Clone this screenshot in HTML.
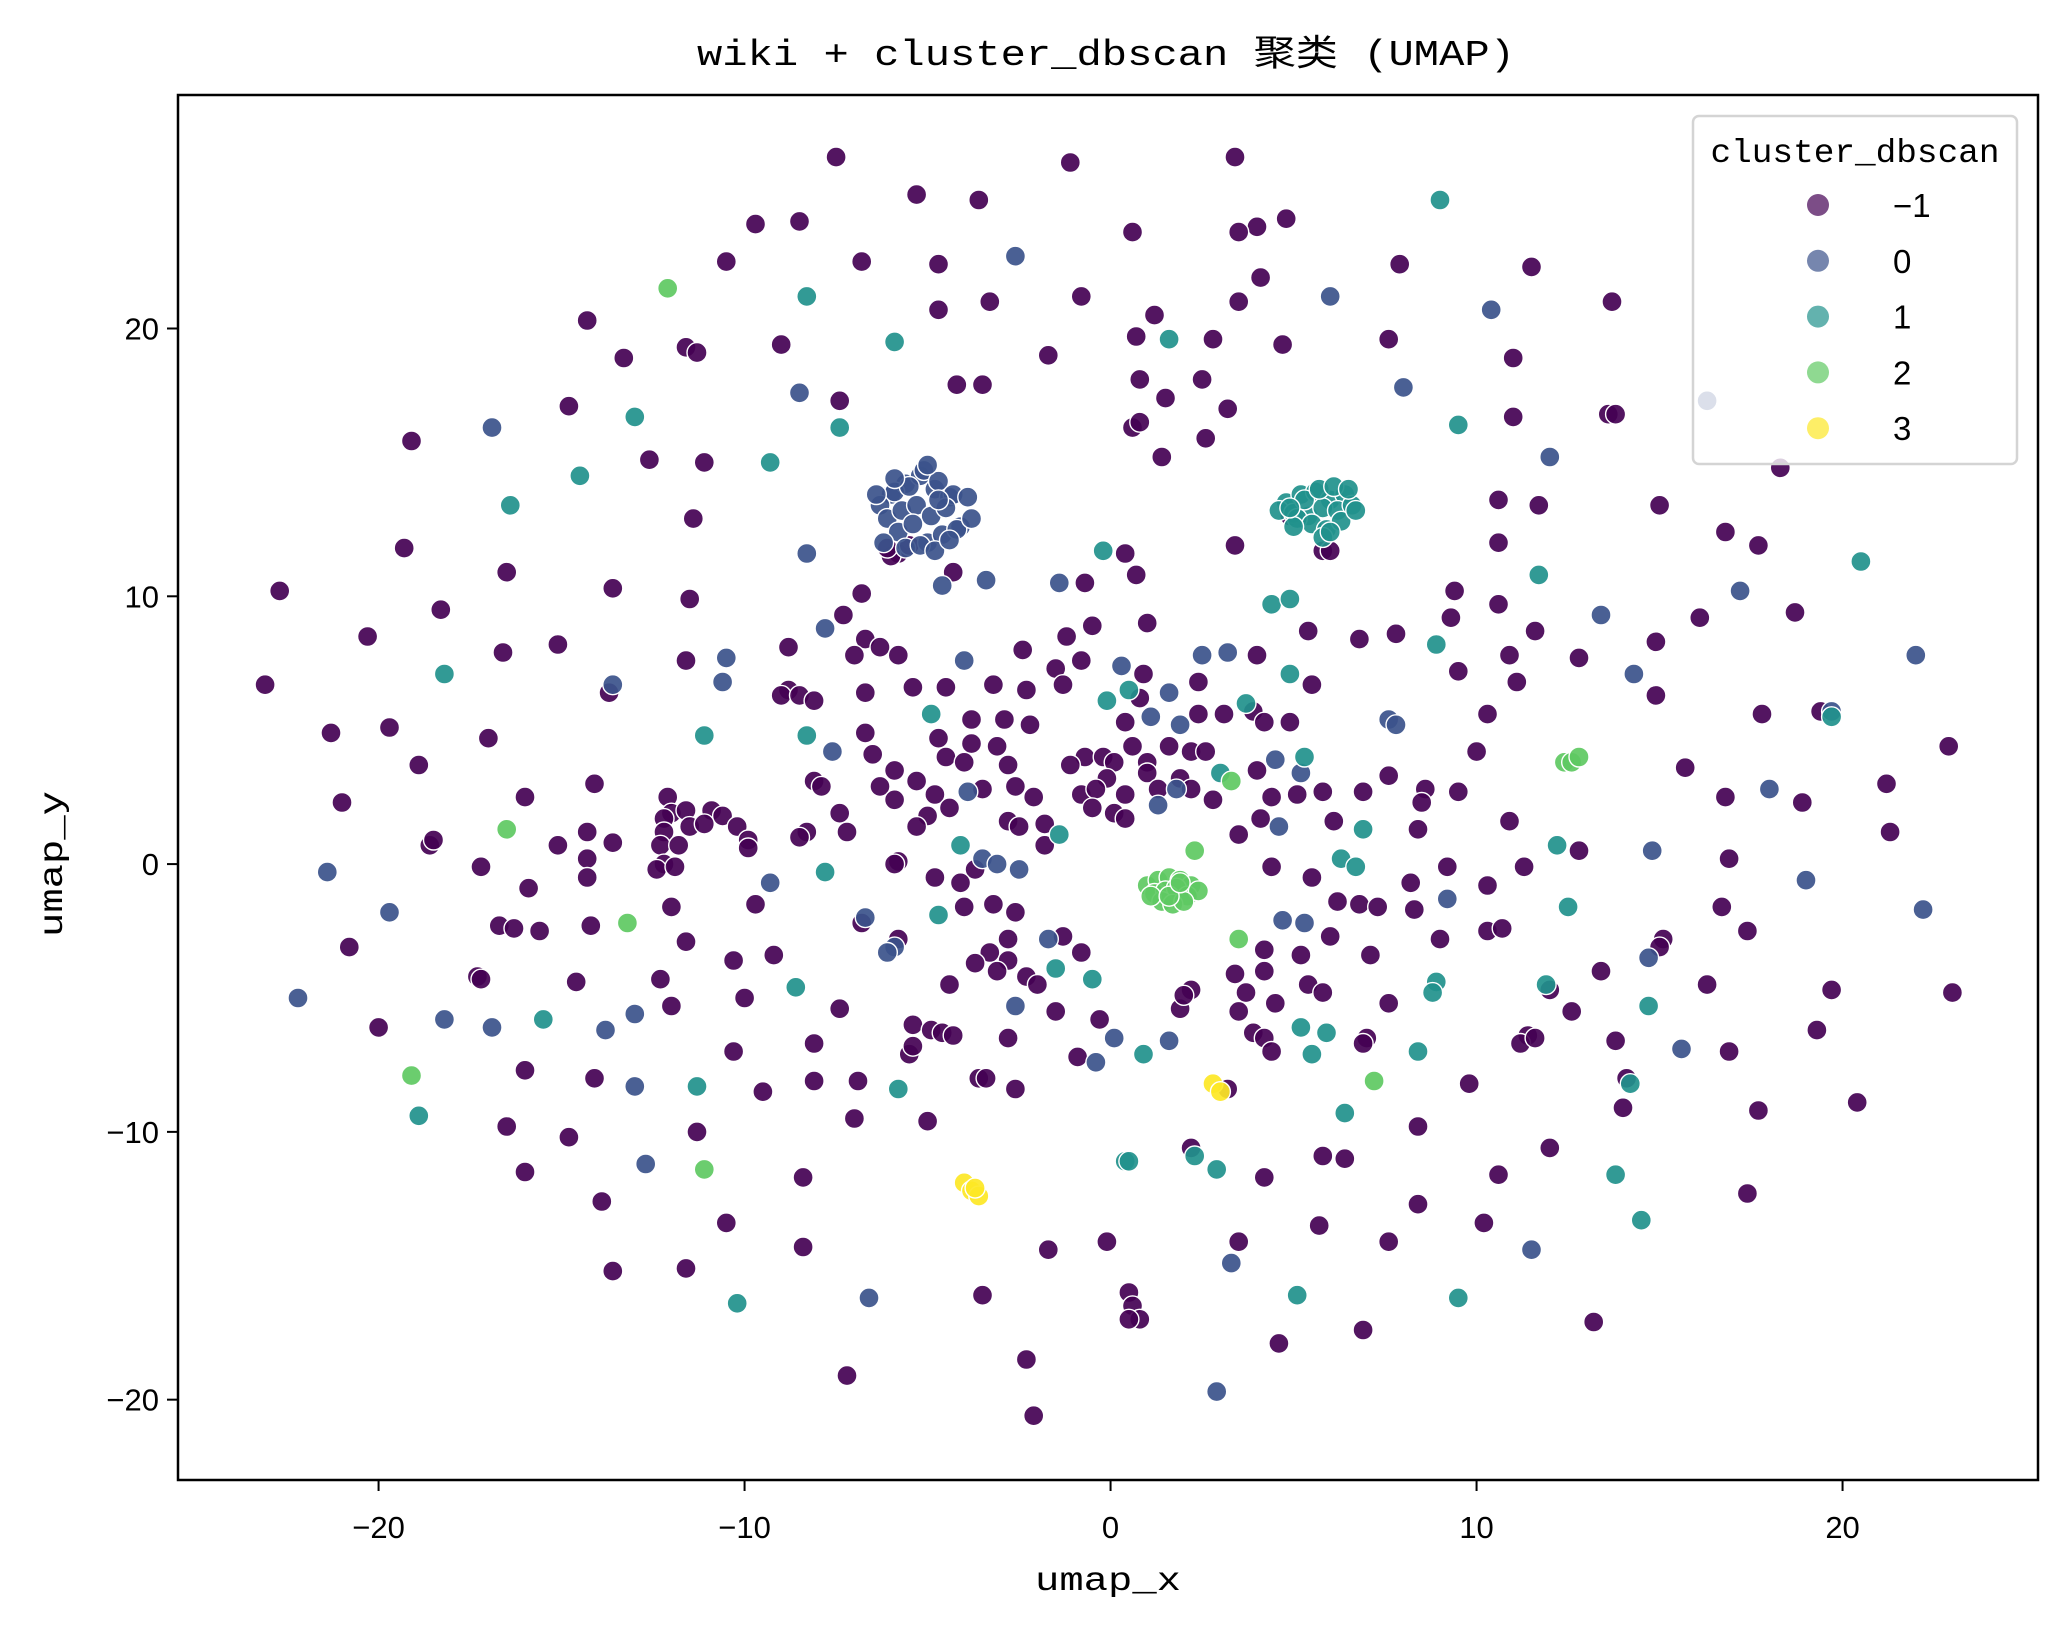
<!DOCTYPE html>
<html><head><meta charset="utf-8"><style>
html,body{margin:0;padding:0;background:#fff;}
svg{display:block;font-family:"Liberation Sans","Noto Sans CJK SC",sans-serif;}
</style></head><body>
<svg id="chart" width="2068" height="1632" viewBox="0 0 2068 1632" xmlns="http://www.w3.org/2000/svg">
<rect x="0" y="0" width="2068" height="1632" fill="#fff"/>
<text x="1106" y="65" text-anchor="middle" font-size="36" font-family="'Liberation Mono','Noto Sans CJK SC',monospace" textLength="818" lengthAdjust="spacingAndGlyphs">wiki + cluster_dbscan 聚类 (UMAP)</text>
<g id="points"></g>
<rect x="178" y="95" width="1860" height="1385" fill="none" stroke="#000" stroke-width="2.5"/>
<g id="xticks"></g>
<g id="yticks"></g>
<text x="1108" y="1590" text-anchor="middle" font-size="33" font-family="'Liberation Mono','Noto Sans CJK SC',monospace" textLength="146" lengthAdjust="spacingAndGlyphs">umap_x</text>
<text transform="translate(62,864) rotate(-90)" text-anchor="middle" font-size="33" font-family="'Liberation Mono','Noto Sans CJK SC',monospace" textLength="146" lengthAdjust="spacingAndGlyphs">umap_y</text>
<g>
<rect x="1693" y="116" width="324" height="348" rx="6" fill="#fff" fill-opacity="0.8" stroke="#d4d4d4" stroke-width="2.5"/>
<text x="1855" y="162" text-anchor="middle" font-size="33" font-family="'Liberation Mono','Noto Sans CJK SC',monospace" textLength="289" lengthAdjust="spacingAndGlyphs">cluster_dbscan</text>
<g id="legend-entries"></g>
</g>
</svg>
<script>
// ---- data: one pair of arrays per cluster ----
const noiseX = [-7.5,-1.1,3.4,-5.3,-3.6,4.0,4.8,3.5,0.6,-8.5,-9.7,-10.5,-6.8,-4.7,4.1,7.9,11.5,-0.8,-3.3,-4.7,3.5,1.2,13.7,-14.3,-13.3,-11.6,-11.3,-9.0,-1.7,0.7,2.8,4.7,7.6,11.0,-4.2,-3.5,-7.4,0.8,2.5,1.5,3.2,13.6,13.8,-14.8,-19.1,0.6,0.8,1.4,2.6,11.0,-12.6,-11.1,18.3,
10.6,11.7,15.0,-11.4,-19.3,-5.8,0.4,3.4,5.8,10.6,16.8,17.7,-16.5,-22.7,-13.6,-4.3,-0.7,0.7,9.4,10.6,16.1,18.7,-11.5,-18.3,-6.8,-7.3,-0.5,1.0,5.4,9.3,6.8,7.8,11.6,14.9,-20.3,-15.1,-8.8,-6.7,-6.3,-1.2,-7.0,-5.8,-16.6,-11.6,-2.4,10.9,12.8,-1.5,-0.8,0.9,4.0,9.5,11.1,
-23.1,-6.7,-5.4,-4.5,-3.2,-2.3,-1.3,0.8,2.4,5.5,14.9,-13.7,-8.8,-9.0,-8.5,-8.1,-3.8,-2.9,0.4,2.4,3.1,3.9,4.2,4.9,10.3,17.8,19.4,-19.7,-21.3,-17.0,-6.7,-6.5,-4.7,-4.5,-3.8,-3.1,-2.2,-0.7,-0.2,0.1,0.6,1.0,1.6,2.2,2.6,10.0,22.9,
-18.9,-5.9,-5.3,-4.0,-2.8,-1.1,-0.1,1.0,1.9,4.0,7.6,15.7,-14.1,-8.1,-7.9,-6.3,-5.9,-4.8,-3.5,-2.6,-2.1,-0.8,-0.4,0.4,1.3,2.2,2.8,4.4,5.1,5.8,6.9,8.6,9.5,21.2,-21.0,-16.0,-12.1,-12.0,-11.6,-10.9,-10.6,-10.2,-9.9,-9.9,-12.2,-11.5,-11.1,-12.2,-12.3,-12.2,-12.4,-11.9,-11.8,-7.4,-7.2,-8.3,-8.5,-5.0,-5.3,-4.4,-2.8,-2.5,-1.8,-1.8,-0.5,0.1,0.4,3.5,4.1,6.1,8.4,8.5,10.9,12.8,16.9,21.3,16.8,18.9,
-15.1,-14.3,-13.6,-18.6,-18.5,-17.2,-14.3,-5.8,-5.9,-3.7,-4.8,-4.1,4.4,5.5,9.2,10.3,11.3,-15.9,-14.3,
6.2,6.8,7.3,8.2,8.3,16.7,-12.0,-9.7,-4.0,-3.2,-2.6,6.0,10.3,10.7,17.4,-16.7,-16.3,-15.6,-14.2,-6.8,-2.8,-1.3,-11.6,9.0,15.1,15.0,-20.8,-5.8,-3.3,-2.8,-0.8,4.2,5.2,7.1,13.4,-10.3,-9.2,-3.7,-3.1,-2.3,3.4,3.7,4.2,5.4,-17.3,-17.2,-14.6,-12.3,-4.4,-2.0,5.8,12.0,19.7,23.0,
-12.0,-10.0,-1.5,1.9,3.5,4.5,7.6,12.6,16.3,-7.4,2.2,2.0,-20.0,-5.4,-4.9,-4.6,-4.3,-0.3,3.9,4.2,7.0,6.9,11.4,11.2,11.6,13.8,19.3,-5.5,-5.4,-2.8,-10.3,-8.1,-0.9,4.4,16.9,
-16.0,-14.1,-9.5,-8.1,-6.9,-3.6,-3.4,-2.6,3.2,9.8,14.1,20.4,-7.0,-5.0,-16.5,8.4,14.0,17.7,-14.8,-11.3,5.8,6.4,12.0,2.2,-16.0,-8.4,4.2,10.6,17.4,-13.9,8.4,-10.5,10.2,
-13.6,-11.6,-8.4,-0.1,3.5,5.7,7.6,-1.7,0.5,0.6,0.8,0.5,-3.5,13.2,-2.3,4.6,6.9,-7.2,-2.1,
-6.0,-5.5,-6.1,6.0,4.9];
const noiseY = [26.4,26.2,26.4,25.0,24.8,23.8,24.1,23.6,23.6,24.0,23.9,22.5,22.5,22.4,21.9,22.4,22.3,21.2,21.0,20.7,21.0,20.5,21.0,20.3,18.9,19.3,19.1,19.4,19.0,19.7,19.6,19.4,19.6,18.9,17.9,17.9,17.3,18.1,18.1,17.4,17.0,16.8,16.8,17.1,15.8,16.3,16.5,15.2,15.9,16.7,15.1,15.0,14.8,
13.6,13.4,13.4,12.9,11.8,11.6,11.6,11.9,11.7,12.0,12.4,11.9,10.9,10.2,10.3,10.9,10.5,10.8,10.2,9.7,9.2,9.4,9.9,9.5,10.1,9.3,8.9,9.0,8.7,9.2,8.4,8.6,8.7,8.3,8.5,8.2,8.1,8.4,8.1,8.5,7.8,7.8,7.9,7.6,8.0,7.8,7.7,7.3,7.6,7.1,7.8,7.2,6.8,
6.7,6.4,6.6,6.6,6.7,6.5,6.7,6.2,6.8,6.7,6.3,6.4,6.5,6.3,6.3,6.1,5.4,5.4,5.3,5.6,5.6,5.7,5.3,5.3,5.6,5.6,5.7,5.1,4.9,4.7,4.9,4.1,4.7,4.0,4.5,4.4,5.2,4.0,4.0,3.8,4.4,3.8,4.4,4.2,4.2,4.2,4.4,
3.7,3.5,3.1,3.8,3.7,3.7,3.2,3.4,3.2,3.5,3.3,3.6,3.0,3.1,2.9,2.9,2.4,2.6,2.8,2.9,2.5,2.6,2.8,2.6,2.8,2.8,2.4,2.5,2.6,2.7,2.7,2.8,2.7,3.0,2.3,2.5,2.5,1.9,2.0,2.0,1.8,1.4,0.9,0.6,1.7,1.4,1.5,1.2,0.7,0.0,-0.2,-0.1,0.7,1.9,1.2,1.2,1.0,1.8,1.4,2.1,1.6,1.4,1.5,0.7,2.1,1.9,1.7,1.1,1.7,1.6,1.3,2.3,1.6,0.5,0.2,1.2,2.5,2.3,
0.7,1.2,0.8,0.7,0.9,-0.1,0.2,0.1,0.0,-0.2,-0.5,-0.7,-0.1,-0.5,-0.1,-0.8,-0.1,-0.9,-0.5,
-1.4,-1.5,-1.6,-0.7,-1.7,-1.6,-1.6,-1.5,-1.6,-1.5,-1.8,-2.7,-2.5,-2.4,-2.5,-2.3,-2.4,-2.5,-2.3,-2.2,-2.8,-2.7,-2.9,-2.8,-2.8,-3.1,-3.1,-2.8,-3.3,-3.6,-3.3,-3.2,-3.4,-3.4,-4.0,-3.6,-3.4,-3.7,-4.0,-4.2,-4.1,-4.8,-4.0,-4.5,-4.2,-4.3,-4.4,-4.3,-4.5,-4.5,-4.8,-4.7,-4.7,-4.8,
-5.3,-5.0,-5.5,-5.4,-5.5,-5.2,-5.2,-5.5,-4.5,-5.4,-4.7,-4.9,-6.1,-6.0,-6.2,-6.3,-6.4,-5.8,-6.3,-6.5,-6.5,-6.7,-6.4,-6.7,-6.5,-6.6,-6.2,-7.1,-6.8,-6.5,-7.0,-6.7,-7.2,-7.0,-7.0,
-7.7,-8.0,-8.5,-8.1,-8.1,-8.0,-8.0,-8.4,-8.4,-8.2,-8.0,-8.9,-9.5,-9.6,-9.8,-9.8,-9.1,-9.2,-10.2,-10.0,-10.9,-11.0,-10.6,-10.6,-11.5,-11.7,-11.7,-11.6,-12.3,-12.6,-12.7,-13.4,-13.4,
-15.2,-15.1,-14.3,-14.1,-14.1,-13.5,-14.1,-14.4,-16.0,-16.5,-17.0,-17.0,-16.1,-17.1,-18.5,-17.9,-17.4,-19.1,-20.6,
11.5,11.9,11.8,11.7,13.0];
const c0X = [-2.6,6.0,10.4,-8.5,8.0,16.3,-16.9,12.0,-8.3,-3.4,-4.6,-1.4,13.4,17.2,-7.8,-10.5,22.0,-4.0,0.3,2.5,3.2,14.3,-10.6,-13.6,1.6,1.1,1.9,7.6,7.8,19.7,-7.6,4.5,5.2,-3.9,1.8,18.0,1.3,4.6,14.8,19.0,-3.5,-3.1,-2.5,-21.4,-9.3,9.2,22.2,-19.7,-6.7,4.7,5.3,-1.7,-5.9,-6.1,14.7,-2.6,-22.2,-18.2,-13.0,-13.8,-16.9,15.6,0.1,1.6,-0.4,-13.0,-12.7,11.5,3.3,-6.6,2.9,
-6.0,-5.6,-5.2,-4.8,-4.4,-6.3,-5.9,-5.5,-5.1,-4.7,-4.3,-3.9,-6.1,-5.7,-5.3,-4.9,-4.5,-4.1,-5.8,-5.4,-5.0,-4.6,-4.2,-6.2,-5.6,-5.2,-4.8,-4.4,-5.9,-5.0,-4.7,-6.4,-3.8];
const c0Y = [22.7,21.2,20.7,17.6,17.8,17.3,16.3,15.2,11.6,10.6,10.4,10.5,9.3,10.2,8.8,7.7,7.8,7.6,7.4,7.8,7.9,7.1,6.8,6.7,6.4,5.5,5.2,5.4,5.2,5.7,4.2,3.9,3.4,2.7,2.8,2.8,2.2,1.4,0.5,-0.6,0.2,0.0,-0.2,-0.3,-0.7,-1.3,-1.7,-1.8,-2.0,-2.1,-2.2,-2.8,-3.1,-3.3,-3.5,-5.3,-5.0,-5.8,-5.6,-6.2,-6.1,-6.9,-6.5,-6.6,-7.4,-8.3,-11.2,-14.4,-14.9,-16.2,-19.7,
13.8,14.2,14.5,14.0,13.7,13.4,13.9,14.1,14.7,14.3,13.8,13.7,12.9,13.2,13.4,13.0,13.3,12.6,12.4,12.7,12.0,12.3,12.5,12.0,11.8,11.9,11.7,12.1,14.4,14.9,13.6,13.8,12.9];
const c1X = [9.0,-8.3,-5.9,1.6,-13.0,-7.4,9.5,-9.3,-14.5,-16.4,-0.2,20.5,11.7,4.4,4.9,8.9,-18.2,4.9,-0.1,0.5,3.7,19.7,-4.9,-11.1,-8.3,5.3,3.0,-1.4,6.9,12.2,-4.1,6.3,6.7,-7.8,12.5,-4.7,-1.5,-0.5,-8.6,8.9,8.8,11.9,14.7,-15.5,5.2,5.9,0.9,5.5,8.4,-11.3,-5.8,14.2,-18.9,6.4,2.3,0.4,0.5,2.9,13.8,14.5,-10.2,5.1,9.5,
4.8,5.2,5.6,6.0,6.4,4.6,5.0,5.4,5.8,6.2,6.6,5.1,5.5,5.9,6.3,6.7,5.3,5.7,6.1,6.5,5.8,6.0,5.0,4.9];
const c1Y = [24.8,21.2,19.5,19.6,16.7,16.3,16.4,15.0,14.5,13.4,11.7,11.3,10.8,9.7,9.9,8.2,7.1,7.1,6.1,6.5,6.0,5.5,5.6,4.8,4.8,4.0,3.4,1.1,1.3,0.7,0.7,0.2,-0.1,-0.3,-1.6,-1.9,-3.9,-4.3,-4.6,-4.4,-4.8,-4.5,-5.3,-5.8,-6.1,-6.3,-7.1,-7.1,-7.0,-8.3,-8.4,-8.2,-9.4,-9.3,-10.9,-11.1,-11.1,-11.4,-11.6,-13.3,-16.4,-16.1,-16.2,
13.5,13.8,13.9,13.6,13.8,13.2,13.1,13.0,13.3,13.2,13.4,12.9,12.7,12.5,12.8,13.2,13.6,14.0,14.1,14.0,12.2,12.4,12.6,13.3];
const c2X = [-12.1,12.4,12.6,12.8,3.3,2.3,-16.5,3.5,-13.2,-19.1,7.2,-11.1,
1.0,1.3,1.6,1.9,2.2,1.2,1.5,1.8,2.1,2.4,1.4,1.7,2.0,1.1,1.6,1.9];
const c2Y = [21.5,3.8,3.8,4.0,3.1,0.5,1.3,-2.8,-2.2,-7.9,-8.1,-11.4,
-0.8,-0.6,-0.5,-0.6,-0.8,-1.1,-1.0,-0.9,-1.2,-1.0,-1.4,-1.5,-1.4,-1.2,-1.2,-0.7];
const c3X = [2.8,3.0,-4.0,-3.8,-3.6,-3.7];
const c3Y = [-8.2,-8.5,-11.9,-12.2,-12.4,-12.1];
const legendLabels = ["\u22121","0","1","2","3"];
const xTickValues = [-20,-10,0,10,20];
const yTickValues = [-20,-10,0,10,20];
const xTickLabels = ["\u221220","\u221210","0","10","20"];
const yTickLabels = ["\u221220","\u221210","0","10","20"];

const NS = "http://www.w3.org/2000/svg";
const PL=178, PR=2038, PT=95, PB=1480;
const XMIN=-25.48, XMAX=25.34, YMIN=-23.0, YMAX=28.72;
function sx(v){return PL+(v-XMIN)/(XMAX-XMIN)*(PR-PL);}
function sy(v){return PB-(v-YMIN)/(YMAX-YMIN)*(PB-PT);}
const seriesList = [
  {x:noiseX,y:noiseY,color:"#440154",name:"point-noise"},
  {x:c0X,y:c0Y,color:"#3b528b",name:"point-cluster-0"},
  {x:c1X,y:c1Y,color:"#21918c",name:"point-cluster-1"},
  {x:c2X,y:c2Y,color:"#5ec962",name:"point-cluster-2"},
  {x:c3X,y:c3Y,color:"#fde725",name:"point-cluster-3"}
];
const legendColor = ["#7c4d87","#7686ae","#63b2ae","#8fd991","#fdee67"];

const gp = document.getElementById("points");
seriesList.forEach(s=>{
  const n=Math.min(s.x.length,s.y.length);
  for(let i=0;i<n;i++){
    const c=document.createElementNS(NS,"circle");
    c.setAttribute("cx",sx(s.x[i]).toFixed(1));
    c.setAttribute("cy",sy(s.y[i]).toFixed(1));
    c.setAttribute("r","10");
    c.setAttribute("fill",s.color);
    c.setAttribute("fill-opacity","0.92");
    c.setAttribute("stroke","#fff");
    c.setAttribute("stroke-width","1.4");
    
    
    gp.appendChild(c);
  }
});
const gx=document.getElementById("xticks");
xTickValues.forEach((v,i)=>{
  const x=sx(v);
  const l=document.createElementNS(NS,"line");
  l.setAttribute("x1",x);l.setAttribute("x2",x);l.setAttribute("y1",PB);l.setAttribute("y2",PB+11);
  l.setAttribute("stroke","#000");l.setAttribute("stroke-width","2");
  
  
  gx.appendChild(l);
  const t=document.createElementNS(NS,"text");
  t.setAttribute("x",x);t.setAttribute("y",PB+58);t.setAttribute("text-anchor","middle");
  t.setAttribute("font-size","31");
  t.textContent=xTickLabels[i];
  
  
  gx.appendChild(t);
});
const gy=document.getElementById("yticks");
yTickValues.forEach((v,i)=>{
  const y=sy(v);
  const l=document.createElementNS(NS,"line");
  l.setAttribute("x1",PL-11);l.setAttribute("x2",PL);l.setAttribute("y1",y);l.setAttribute("y2",y);
  l.setAttribute("stroke","#000");l.setAttribute("stroke-width","2");
  
  
  gy.appendChild(l);
  const t=document.createElementNS(NS,"text");
  t.setAttribute("x",PL-19);t.setAttribute("y",y+11);t.setAttribute("text-anchor","end");
  t.setAttribute("font-size","31");
  t.textContent=yTickLabels[i];
  
  
  gy.appendChild(t);
});
const gl=document.getElementById("legend-entries");
legendLabels.forEach((lab,i)=>{
  const y=205+i*55.8;
  const c=document.createElementNS(NS,"circle");
  c.setAttribute("cx",1818);c.setAttribute("cy",y);c.setAttribute("r","11");
  c.setAttribute("fill",legendColor[i]);
  
  
  gl.appendChild(c);
  const t=document.createElementNS(NS,"text");
  t.setAttribute("x",1893);t.setAttribute("y",y+12);t.setAttribute("font-size","33");
  t.textContent=lab;
  
  
  gl.appendChild(t);
});
</script>
</body></html>
